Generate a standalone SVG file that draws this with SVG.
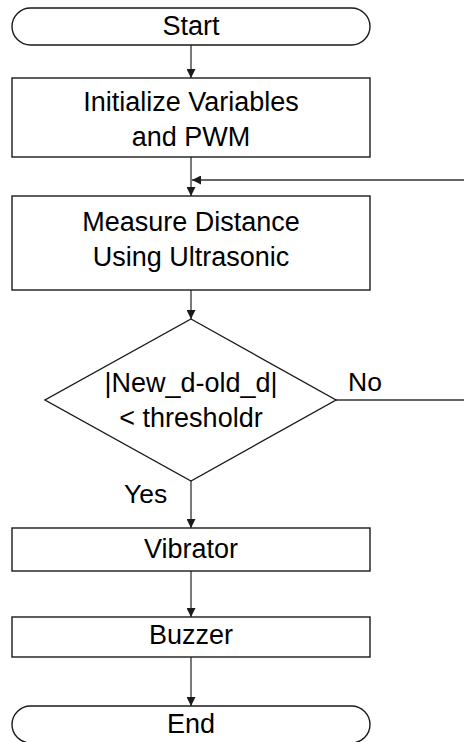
<svg xmlns="http://www.w3.org/2000/svg" width="464" height="742" viewBox="0 0 464 742">
  <style>
    .shape { fill: #ffffff; stroke: #1a1a1a; stroke-width: 1.4; }
    .edge { fill: none; stroke: #333333; stroke-width: 1.3; }
    .label { font-family: "Liberation Sans", Arial, sans-serif; font-size: 27px; fill: #000000; text-anchor: middle; }
    .side { font-family: "Liberation Sans", Arial, sans-serif; font-size: 26.5px; fill: #000000; }
  </style>
  <defs>
    <marker id="arrow" viewBox="0 0 10 10" refX="10" refY="5" markerWidth="9" markerHeight="9" markerUnits="userSpaceOnUse" orient="auto">
      <path d="M0,0 L10,5 L0,10 Z" fill="#1a1a1a"/>
    </marker>
  </defs>

  <rect width="464" height="742" fill="#ffffff"/>

  <g id="connectors">
    <line class="edge" x1="191" y1="45" x2="191" y2="78" marker-end="url(#arrow)"/>
    <line class="edge" x1="191" y1="157" x2="191" y2="196" marker-end="url(#arrow)"/>
    <line class="edge" x1="464" y1="180" x2="192" y2="180" marker-end="url(#arrow)"/>
    <line class="edge" x1="191" y1="290" x2="191" y2="319" marker-end="url(#arrow)"/>
    <line class="edge" x1="336" y1="400" x2="464" y2="400"/>
    <line class="edge" x1="191" y1="481" x2="191" y2="528" marker-end="url(#arrow)"/>
    <line class="edge" x1="191" y1="571" x2="191" y2="617" marker-end="url(#arrow)"/>
    <line class="edge" x1="191" y1="657" x2="191" y2="706" marker-end="url(#arrow)"/>
  </g>

  <g id="start">
    <rect class="shape" x="12" y="8" width="358" height="37" rx="18.5" ry="18.5"/>
    <text class="label" x="191" y="35">Start</text>
  </g>

  <g id="init">
    <rect class="shape" x="12" y="78" width="358" height="79"/>
    <text class="label" x="191" y="111">Initialize Variables</text>
    <text class="label" x="191" y="146">and PWM</text>
  </g>

  <g id="measure">
    <rect class="shape" x="12" y="196" width="358" height="94"/>
    <text class="label" x="191" y="231">Measure Distance</text>
    <text class="label" x="191" y="266">Using Ultrasonic</text>
  </g>

  <g id="decision">
    <polygon class="shape" points="191,319 336,400 191,481 45,400"/>
    <text class="label" x="191" y="392">|New_d-old_d|</text>
    <text class="label" x="191" y="427">&lt; thresholdr</text>
    <text class="side" x="348" y="391">No</text>
    <text class="side" x="124" y="503">Yes</text>
  </g>

  <g id="vibrator">
    <rect class="shape" x="12" y="528" width="358" height="43"/>
    <text class="label" x="191" y="558">Vibrator</text>
  </g>

  <g id="buzzer">
    <rect class="shape" x="12" y="617" width="358" height="40"/>
    <text class="label" x="191" y="644">Buzzer</text>
  </g>

  <g id="end">
    <rect class="shape" x="12" y="706" width="358" height="37" rx="18.5" ry="18.5"/>
    <text class="label" x="191" y="733">End</text>
  </g>
</svg>
